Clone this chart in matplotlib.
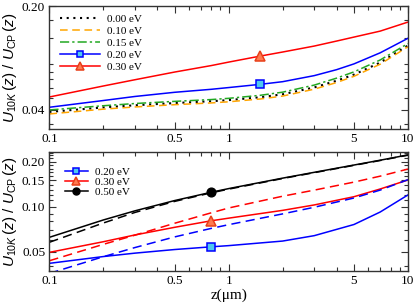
import numpy as np
import matplotlib
matplotlib.use("Agg")
import matplotlib.pyplot as plt
from matplotlib.ticker import FixedLocator, FixedFormatter, NullFormatter

plt.rcParams['font.family'] = ['Liberation Serif', 'DejaVu Serif']
plt.rcParams['mathtext.fontset'] = 'custom'
plt.rcParams['mathtext.rm'] = 'Liberation Sans'
plt.rcParams['mathtext.it'] = 'Liberation Sans:italic'

# ---------------- top panel data ----------------
z_top = [0.1, 0.2, 0.3, 0.5, 0.8, 1.0, 1.5, 2, 3, 4, 5, 7, 10]
top_000 = [0.0388, 0.0416, 0.0430, 0.0445, 0.0458, 0.0466, 0.0487, 0.0510, 0.0567, 0.0629, 0.0692, 0.0834, 0.1086]
top_010 = [0.0376, 0.0405, 0.0419, 0.0434, 0.0446, 0.0454, 0.0474, 0.0496, 0.0552, 0.0612, 0.0674, 0.0813, 0.1066]
top_015 = [0.0400, 0.0427, 0.0442, 0.0457, 0.0470, 0.0479, 0.0502, 0.0527, 0.0588, 0.0655, 0.0722, 0.0868, 0.1120]
top_020 = [0.0417, 0.0463, 0.0493, 0.0526, 0.0551, 0.0566, 0.0595, 0.0620, 0.0681, 0.0747, 0.0817, 0.0970, 0.1215]
top_030 = [0.0489, 0.0580, 0.0639, 0.0720, 0.0796, 0.0840, 0.0922, 0.0982, 0.1077, 0.1164, 0.1238, 0.1358, 0.1562]
top_labels = ['0.00 eV', '0.10 eV', '0.15 eV', '0.20 eV', '0.30 eV']
top_marker_idx = 6

# ---------------- bottom panel data ----------------
z_bot = [0.1, 0.2, 0.3, 0.5, 0.8, 1.0, 2, 3, 5, 7, 10]
bot_020_solid = [0.0418, 0.0464, 0.0489, 0.0517, 0.0539, 0.0549, 0.0589, 0.0640, 0.0760, 0.0921, 0.1198]
bot_020_dash = [0.0358, 0.0463, 0.0533, 0.0628, 0.0716, 0.0758, 0.0895, 0.0991, 0.1143, 0.1291, 0.1516]
bot_030_solid = [0.0495, 0.0583, 0.0647, 0.0728, 0.0805, 0.0838, 0.0945, 0.1027, 0.1166, 0.1313, 0.1509]
bot_030_dash = [0.0435, 0.0560, 0.0645, 0.0775, 0.0910, 0.0980, 0.1175, 0.1290, 0.1460, 0.1600, 0.1785]
bot_050_solid = [0.0624, 0.0815, 0.0938, 0.1099, 0.1249, 0.1321, 0.1552, 0.1697, 0.1899, 0.2045, 0.2220]
bot_050_dash = [0.0578, 0.0778, 0.0915, 0.1085, 0.1238, 0.1310, 0.1543, 0.1688, 0.1890, 0.2036, 0.2210]
bot_labels = ['0.20 eV', '0.30 eV', '0.50 eV']
bot_marker_idx = 4

x_ticks = [0.1, 0.5, 1, 5, 10]
x_ticklabels = ['0.1', '0.5', '1', '5', '10']
x_minor = [0.2, 0.3, 0.4, 0.6, 0.7, 0.8, 0.9, 2, 3, 4, 6, 7, 8, 9]
top_yticks = [0.04, 0.2]
top_yticklabels = ['0.04', '0.20']
top_yminor = [0.0322, 0.048, 0.0562, 0.0646, 0.072, 0.0816, 0.122, 0.161]
bot_yticks = [0.05, 0.10, 0.15, 0.20]
bot_yticklabels = ['0.05', '0.10', '0.15', '0.20']
bot_yminor = [0.04, 0.06, 0.07, 0.08, 0.09, 0.11, 0.12, 0.13, 0.14, 0.16, 0.17, 0.18, 0.19, 0.21, 0.22, 0.23]

BLUE = '#0000ff'
RED = '#ff0000'
SQ_FACE = '#4fc8f0'
TRI_FACE = '#ff7a50'
TRI_EDGE = '#e8401a'

fig = plt.figure(figsize=(4.15, 3.07), dpi=100)
ax1 = fig.add_axes([0.119, 0.580, 0.864, 0.400])
ax2 = fig.add_axes([0.119, 0.117, 0.864, 0.388])

lw = 1.1
ax1.plot(z_top, top_000, color='black', ls=(0, (1, 2.2)), lw=1.5, label=top_labels[0])
ax1.plot(z_top, top_010, color='#ffa500', ls=(0, (5, 3)), lw=lw, label=top_labels[1])
ax1.plot(z_top, top_015, color='#22a822', ls=(0, (6, 2, 1.5, 2)), lw=lw, label=top_labels[2])
ax1.plot(z_top, top_020, color=BLUE, lw=lw, marker='s', markevery=[top_marker_idx], ms=6,
         mfc=SQ_FACE, mec=BLUE, mew=1.1, label=top_labels[3])
ax1.plot(z_top, top_030, color=RED, lw=lw, marker='^', markevery=[top_marker_idx], ms=7.5,
         mfc=TRI_FACE, mec=TRI_EDGE, mew=1.1, label=top_labels[4])

ax2.plot(z_bot, bot_020_solid, color=BLUE, lw=lw, marker='s', markevery=[bot_marker_idx], ms=6,
         mfc=SQ_FACE, mec=BLUE, mew=1.1, label=bot_labels[0])
ax2.plot(z_bot, bot_030_solid, color=RED, lw=lw, marker='^', markevery=[bot_marker_idx], ms=7,
         mfc=TRI_FACE, mec=TRI_EDGE, mew=1.1, label=bot_labels[1])
ax2.plot(z_bot, bot_050_solid, color='black', lw=lw, marker='o', markevery=[bot_marker_idx], ms=6.3,
         mfc='black', mec='black', label=bot_labels[2])
ax2.plot(z_bot, bot_020_dash, color=BLUE, lw=lw, ls=(0, (6, 3.5)))
ax2.plot(z_bot, bot_030_dash, color=RED, lw=lw, ls=(0, (6, 3.5)))
ax2.plot(z_bot, bot_050_dash, color='black', lw=lw, ls=(0, (6, 3.5)))

for ax in (ax1, ax2):
    ax.set_xscale('log')
    ax.set_yscale('log')
    ax.set_xlim(0.1, 10)
    ax.xaxis.set_major_locator(FixedLocator(x_ticks))
    ax.xaxis.set_major_formatter(FixedFormatter(x_ticklabels))
    ax.xaxis.set_minor_locator(FixedLocator(x_minor))
    ax.xaxis.set_minor_formatter(NullFormatter())
    ax.tick_params(which='both', direction='in', top=True, right=True, labelsize=9.5,
                   color='#333333', pad=3)
    ax.tick_params(which='major', length=5, width=0.8)
    ax.tick_params(which='minor', length=3, width=0.8)
    for s in ax.spines.values():
        s.set_linewidth(1.0)
        s.set_color('#333333')
    ax.set_ylabel(r'$U_{10K}\,(z)\ /\ U_{\mathrm{CP}}\,(z)$', fontsize=11, labelpad=2)

ax1.set_ylim(0.0298, 0.2)
ax1.yaxis.set_major_locator(FixedLocator(top_yticks))
ax1.yaxis.set_major_formatter(FixedFormatter(top_yticklabels))
ax1.yaxis.set_minor_locator(FixedLocator(top_yminor))
ax1.yaxis.set_minor_formatter(NullFormatter())

ax2.set_ylim(0.0371, 0.2322)
ax2.yaxis.set_major_locator(FixedLocator(bot_yticks))
ax2.yaxis.set_major_formatter(FixedFormatter(bot_yticklabels))
ax2.yaxis.set_minor_locator(FixedLocator(bot_yminor))
ax2.yaxis.set_minor_formatter(NullFormatter())
ax2.set_xlabel('z(μm)', fontsize=11, labelpad=1)

ax1.legend(loc='upper left', bbox_to_anchor=(0.029, 0.935), frameon=False, fontsize=8,
           handlelength=3.6, handletextpad=0.65, labelspacing=0.2, borderpad=0, borderaxespad=0,
           markerscale=0.8)
ax2.legend(loc='upper left', bbox_to_anchor=(0.043, 0.875), frameon=False, fontsize=8,
           handlelength=2.1, handletextpad=0.65, labelspacing=0.05, borderpad=0, borderaxespad=0,
           markerscale=0.8)

fig.savefig('out.png', dpi=100)
